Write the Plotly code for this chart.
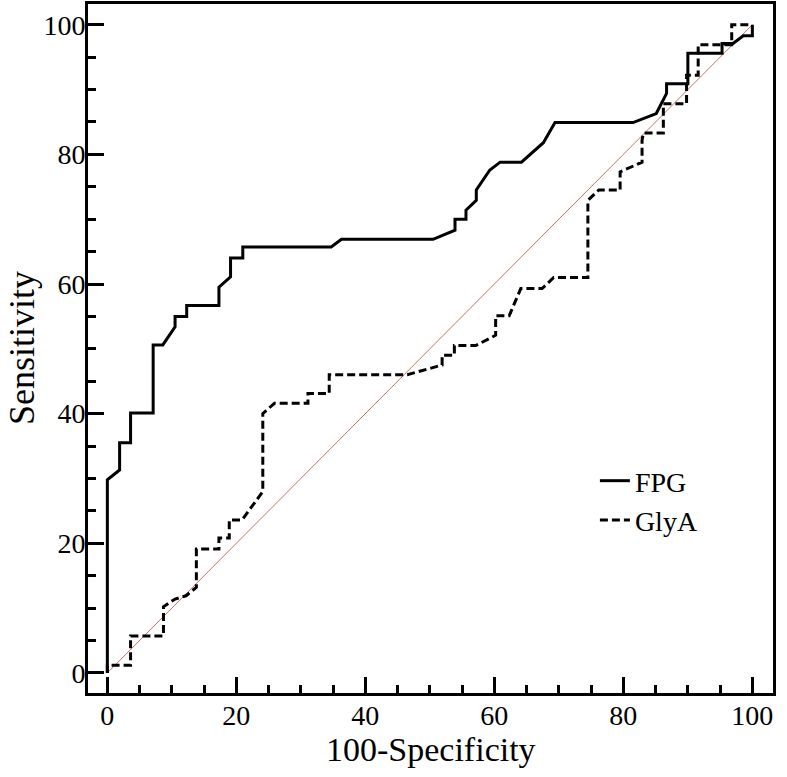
import plotly.graph_objects as go

# FPG ROC curve (100-Specificity, Sensitivity)
fpg_x = [0, 0, 1.9, 1.9, 3.6, 3.6, 7.1, 7.1, 8.6, 10.5, 10.5, 12.3, 12.3, 17.3, 17.3, 19.1, 19.1,
         21.0, 21.0, 34.7, 36.3, 50.5, 53.9, 53.9, 55.6, 55.6, 57.2, 57.2, 59.3, 60.9, 64.2, 67.6,
         69.4, 81.5, 85.1, 86.7, 86.7, 90.0, 90.0, 95.3, 95.3, 97.0, 98.6, 100, 100]
fpg_y = [0, 29.8, 31.3, 35.5, 35.5, 40.1, 40.1, 50.6, 50.6, 53.4, 55.0, 55.0, 56.7, 56.7, 59.5, 61.1, 64.0,
         64.0, 65.7, 65.7, 66.9, 66.9, 68.3, 70.0, 70.0, 71.4, 72.9, 74.5, 77.6, 78.8, 78.8, 81.8,
         84.9, 84.9, 86.3, 89.4, 90.9, 90.9, 95.6, 95.6, 97.1, 97.1, 98.3, 98.3, 100]

# GlyA ROC curve
glya_x = [0, 0, 3.6, 3.6, 8.7, 8.7, 10.5, 12.2, 13.8, 13.8, 17.3, 17.3, 18.9, 18.9, 20.9, 24.1, 24.1,
          25.9, 31.1, 31.1, 34.4, 34.4, 46.5, 51.9, 51.9, 53.8, 53.8, 57.1, 60.2, 60.2, 62.3, 64.1,
          67.4, 69.2, 74.5, 74.5, 76.2, 79.5, 79.5, 82.9, 82.9, 83.1, 86.2, 86.2, 89.8, 89.8, 91.6,
          91.6, 96.8, 96.8, 100]
glya_y = [0, 1.2, 1.2, 5.7, 5.7, 10.2, 11.4, 11.9, 13.2, 19.1, 19.1, 20.8, 20.8, 23.6, 23.6, 28.0, 40.0,
          41.6, 41.6, 43.1, 43.1, 46.0, 46.0, 47.5, 49.0, 49.0, 50.5, 50.5, 52.1, 55.1, 55.1, 59.3,
          59.3, 61.0, 61.0, 72.9, 74.5, 74.5, 77.3, 78.8, 82.2, 83.3, 83.3, 87.8, 87.8, 92.2, 92.2,
          96.9, 96.9, 100, 100]

# reference diagonal
diag_x = [0, 100]
diag_y = [0, 100]

tick_vals = [0, 20, 40, 60, 80, 100]
tick_text = ["0", "20", "40", "60", "80", "100"]

FONT = "Liberation Serif, Times New Roman, serif"

fig = go.Figure()
fig.add_trace(go.Scatter(x=diag_x, y=diag_y, mode="lines", showlegend=False,
                         line=dict(color="#b87868", width=1), hoverinfo="skip"))
fig.add_trace(go.Scatter(x=fpg_x, y=fpg_y, mode="lines", name="FPG",
                         line=dict(color="black", width=3)))
fig.add_trace(go.Scatter(x=glya_x, y=glya_y, mode="lines", name="GlyA",
                         line=dict(color="black", width=3, dash="8px,4px")))

axis_common = dict(
    showline=True, linewidth=3, linecolor="black", mirror=True,
    ticks="inside", ticklen=16, tickwidth=3, tickcolor="black",
    tickvals=tick_vals, ticktext=tick_text,
    minor=dict(ticks="inside", ticklen=8, tickwidth=3, tickcolor="black", dtick=5, showgrid=False),
    showgrid=False, zeroline=False, automargin=False,
    tickfont=dict(family=FONT, size=28, color="black"),
)

fig.update_xaxes(range=[-3.0, 103.2], ticklabelstandoff=-5, **axis_common)
fig.update_yaxes(range=[-3.1, 103.2], ticklabelstandoff=-6, **axis_common)

fig.update_layout(
    width=787, height=777,
    margin=dict(l=88, r=14, t=4, b=84),
    plot_bgcolor="white", paper_bgcolor="white",
    legend=dict(x=0.74, y=0.344, xanchor="left", yanchor="top",
                font=dict(family=FONT, size=28, color="black"),
                bgcolor="rgba(0,0,0,0)"),
    annotations=[
        dict(text="100-Specificity", xref="paper", yref="paper", x=0.5, y=-0.082,
             xanchor="center", yanchor="middle", showarrow=False,
             font=dict(family=FONT, size=34, color="black")),
        dict(text="Sensitivity", xref="paper", yref="paper", x=-0.097, y=0.5,
             xanchor="center", yanchor="middle", showarrow=False, textangle=-90,
             font=dict(family=FONT, size=36, color="black")),
    ],
)

fig.write_html("out.html", config={"displayModeBar": False},
               post_script="document.body.style.margin='0';")
